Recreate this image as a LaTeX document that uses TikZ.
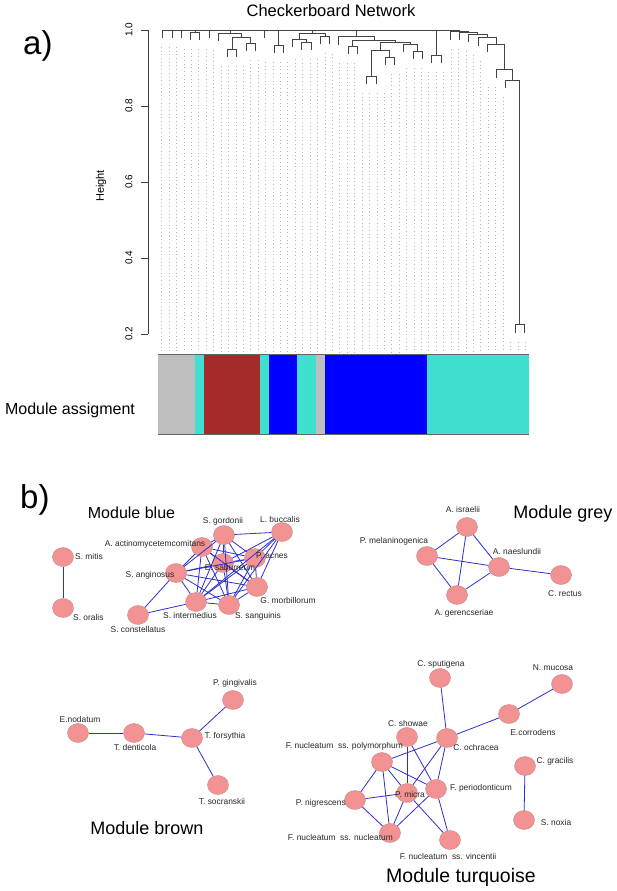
\documentclass[tikz,border=0pt]{standalone}
\usepackage{fontspec}
\setmainfont{Liberation Sans}
\usetikzlibrary{shapes.geometric}
\definecolor{nodefill}{HTML}{F29292}
\definecolor{nodeline}{HTML}{C98A8A}
\definecolor{edgeblue}{HTML}{2F2FCF}
\definecolor{dendro}{HTML}{444444}
\definecolor{guidec}{HTML}{B4B4B4}
\definecolor{mgrey}{HTML}{BEBEBE}
\definecolor{mturq}{HTML}{40E0D0}
\definecolor{mbrown}{HTML}{A52A2A}
\definecolor{mblue}{HTML}{0000FF}
\def\leafends{{38,38,38,40,40,38,41,57,57,51,51,38,53,53,47,50,50,44,44,44.7,54,54,84,84,65,65,52,59,59,63,63,39.7,40.5,42.3,45.7,52,77.5,88,333,333}}
\newcommand\dendbr[5]{\draw[dend] (#1,#4) -- (#1,#3) -- (#2,#3) -- (#2,#5);}
\newcommand\dendup[2]{\draw[dend] (#1,30) -- (#1,#2);}
\begin{document}
\begin{tikzpicture}[x=1pt,y=-1pt,
  dend/.style={draw=dendro,line width=0.8pt},
  guideline/.style={draw=guidec,line width=0.7pt,dash pattern=on 0.8pt off 2.9pt},
  axisline/.style={draw=black!75,line width=0.7pt},
  ticklab/.style={rotate=90,font=\fontsize{10}{11}\selectfont,inner sep=0pt},
  netnode/.style={ellipse,draw=nodeline,line width=0.4pt,fill=nodefill,minimum width=21pt,minimum height=19pt,inner sep=0pt},
  lab/.style={font=\fontsize{8.4}{9}\selectfont,text=black!85,inner sep=0pt},
  edge/.style={draw=edgeblue,line width=0.8pt},
  modtitle/.style={inner sep=0pt,text=black}]
\useasboundingbox (0,0) rectangle (617,891);
\fill[white] (0,0) rectangle (617,891);
% ---------- part a ----------
\node[font=\fontsize{16.5}{18}\selectfont] (title) at (331,10.5) {Checkerboard Network};
\node[anchor=base west,font=\fontsize{33}{33}\selectfont,inner sep=0pt] (la) at (23,55) {a)};
\draw[axisline] (148,30) -- (148,334);
\foreach \y/\t in {30/1.0,106/0.8,182/0.6,258/0.4,334/0.2}{
  \draw[axisline] (141,\y) -- (148,\y);
  \node[ticklab] (tk\y) at (129,\y) {\t};
}
\node[rotate=90,font=\fontsize{11}{12}\selectfont] (hgt) at (101,186) {Height};
% guides
\foreach \g in {0,...,49}{
  \pgfmathsetmacro\gx{161.7+7.42*\g}
  \pgfmathtruncatemacro\gi{max(0,min(38,floor((\gx-162.6)/9.275)))}
  \pgfmathsetmacro\ga{\leafends[\gi]}
  \pgfmathsetmacro\gb{\leafends[\gi+1]}
  \pgfmathsetmacro\gy{max(\ga,\gb)+9}
  \draw[guideline] (\gx,\gy) -- (\gx,352);
}
% dendrogram
\draw[dend] (162.6,30) -- (459.35,30);
\dendup{162.6}{38}
\dendup{171.9}{38}
\dendup{181.2}{38}
\dendup{195.05}{32}
\dendup{209.0}{38}
\dendup{229.9}{33}
\dendup{264.6}{38}
\dendup{278.55}{45}
\dendup{312.25}{33}
\dendup{356.5}{36.7}
\dendup{436.25}{55}
\dendup{459.35}{31.7}
\dendbr{190.4}{199.7}{32}{40}{40}
\dendbr{227.5}{236.8}{49}{57}{57}
\dendbr{246.1}{255.4}{43}{51}{51}
\dendbr{232.15}{250.75}{37}{49}{43}
\dendbr{218.3}{241.45}{33}{41}{37}
\dendbr{273.9}{283.2}{45}{53}{53}
\dendbr{301.7}{311.0}{42}{50}{50}
\dendbr{292.5}{306.35}{39}{47}{42}
\dendbr{320.3}{329.6}{36}{44}{44}
\dendbr{299.45}{324.95}{33}{39}{36}
\dendbr{348.1}{357.4}{46}{54}{54}
\dendbr{366.7}{375.9}{76}{84}{84}
\dendbr{385.2}{394.5}{57}{65}{65}
\dendbr{371.3}{389.85}{50}{76}{57}
\dendbr{413.0}{422.3}{51}{59}{59}
\dendbr{403.8}{417.65}{44}{52}{51}
\dendbr{380.6}{410.7}{42}{50}{44}
\dendbr{352.75}{395.65}{40}{46}{42}
\dendbr{338.8}{374.2}{36.7}{44.7}{40}
\dendbr{431.6}{440.9}{55}{63}{63}
\dendbr{515.1}{524.3}{324}{333}{333}
\dendbr{505.8}{519.7}{80}{88}{324}
\dendbr{496.5}{512.75}{69.5}{77.5}{80}
\dendbr{487.2}{504.6}{44}{52}{69.5}
\dendbr{478.0}{495.9}{37.7}{45.7}{44}
\dendbr{468.7}{486.95}{34.3}{42.3}{37.7}
\dendbr{459.4}{477.8}{32.5}{40.5}{34.3}
\dendbr{450.1}{468.6}{31.7}{39.7}{32.5}
% module colour bar
\fill[mgrey]  (158,354) rectangle (195.1,434);
\fill[mturq]  (195.1,354) rectangle (204.4,434);
\fill[mbrown] (204.4,354) rectangle (260.0,434);
\fill[mturq]  (260.0,354) rectangle (269.3,434);
\fill[mblue]  (269.3,354) rectangle (297.1,434);
\fill[mturq]  (297.1,354) rectangle (315.7,434);
\fill[mgrey]  (315.7,354) rectangle (325.0,434);
\fill[mblue]  (325.0,354) rectangle (427.0,434);
\fill[mturq]  (427.0,354) rectangle (529,434);
\draw[draw=black!60,line width=0.6pt] (158,354) -- (529,354);
\draw[draw=black!60,line width=0.6pt] (158,434) -- (529,434);
\node[font=\fontsize{16}{18}\selectfont] (massign) at (70,410) {Module assigment};
% ---------- part b ----------
\node[anchor=base west,font=\fontsize{33}{33}\selectfont,inner sep=0pt] (lb) at (20,508) {b)};
% module blue
\node[netnode] (smitis) at (63,557) {};
\node[netnode] (soralis) at (63,608) {};
\node[netnode] (sang) at (176,573) {};
\node[netnode] (scon) at (138,615) {};
\node[netnode] (sint) at (196,602) {};
\node[netnode] (ssan) at (229,605) {};
\node[netnode] (gmor) at (257,587) {};
\node[netnode] (pacn) at (255,558) {};
\node[netnode] (lbuc) at (282,532) {};
\node[netnode] (sgor) at (224,535) {};
\node[netnode] (aact) at (202,547) {};
\node[netnode] (esab) at (223,563) {};
\draw[edge] (smitis) -- (soralis);
\draw[edge] (scon) -- (sang);
\draw[edge] (scon) -- (sint);
\foreach \a/\b in {aact/sgor,aact/pacn,aact/esab,aact/sang,aact/gmor,aact/sint,aact/ssan,
  sgor/lbuc,sgor/pacn,sgor/esab,sgor/sang,sgor/gmor,sgor/sint,sgor/ssan,
  lbuc/pacn,lbuc/esab,lbuc/gmor,lbuc/sint,lbuc/ssan,
  pacn/esab,pacn/sang,pacn/gmor,pacn/sint,pacn/ssan,
  esab/sang,esab/gmor,esab/sint,esab/ssan,
  sang/gmor,sang/sint,sang/ssan,
  gmor/sint,gmor/ssan,sint/ssan}
  {\draw[edge] (\a) -- (\b);}
\node[lab,anchor=west] (lsmitis) at (75,556) {S. mitis};
\node[lab,anchor=west] (lsoralis) at (73,617) {S. oralis};
\node[lab] (lscon) at (138,629) {S. constellatus};
\node[lab] (lsint) at (190,615) {S. intermedius};
\node[lab] (lssan) at (258,616) {S. sanguinis};
\node[lab] (lgmor) at (288,600) {G. morbillorum};
\node[lab] (lsang) at (150,575) {S. anginosus};
\node[lab] (lesab) at (230,567) {E. saburreum};
\node[lab] (lpacn) at (272,556) {P. acnes};
\node[lab] (laact) at (155,544) {A. actinomycetemcomitans};
\node[lab] (lsgor) at (223,521) {S. gordonii};
\node[lab] (llbuc) at (280,519) {L. buccalis};
\node[modtitle,font=\fontsize{16}{18}\selectfont] (tblue) at (131.5,513) {Module blue};
% module grey
\node[netnode] (aisr) at (467,527) {};
\node[netnode] (pmel) at (427,556) {};
\node[netnode] (anae) at (499,567) {};
\node[netnode] (ager) at (457,595) {};
\node[netnode] (crec) at (561,575) {};
\foreach \a/\b in {aisr/pmel,aisr/anae,aisr/ager,pmel/anae,pmel/ager,anae/ager,anae/crec}
  {\draw[edge] (\a) -- (\b);}
\node[lab] (laisr) at (463,509) {A. israelii};
\node[lab] (lpmel) at (394,541) {P. melaninogenica};
\node[lab] (lanae) at (517,551) {A. naeslundii};
\node[lab] (lager) at (464,613) {A. gerencseriae};
\node[lab] (lcrec) at (565,594) {C. rectus};
\node[modtitle,font=\fontsize{18}{20}\selectfont] (tgrey) at (563,514) {Module grey};
% module brown
\node[netnode] (enod) at (78,733) {};
\node[netnode] (tden) at (134,733) {};
\node[netnode] (tfor) at (192,738) {};
\node[netnode] (pgin) at (233,700) {};
\node[netnode] (tsoc) at (218,785) {};
\foreach \a/\b in {enod/tden,tden/tfor,tfor/pgin,tfor/tsoc}
  {\draw[edge] (\a) -- (\b);}
\node[lab] (lenod) at (80,719) {E.nodatum};
\node[lab] (ltden) at (135,747) {T. denticola};
\node[lab] (ltfor) at (225,736) {T. forsythia};
\node[lab] (lpgin) at (235,683) {P. gingivalis};
\node[lab] (ltsoc) at (222,801) {T. socranskii};
\node[modtitle,font=\fontsize{18}{20}\selectfont] (tbrown) at (147,828) {Module brown};
% module turquoise
\node[netnode] (cspu) at (440,678) {};
\node[netnode] (nmuc) at (562,684) {};
\node[netnode] (ecor) at (509,714) {};
\node[netnode] (csho) at (407,737) {};
\node[netnode] (coch) at (447,738) {};
\node[netnode] (fpol) at (382,762) {};
\node[netnode] (pnig) at (355,800) {};
\node[netnode] (pmic) at (407,793) {};
\node[netnode] (fper) at (436,789) {};
\node[netnode] (fnuc) at (390,833) {};
\node[netnode] (fvin) at (450,840) {};
\node[netnode] (cgra) at (525,766) {};
\node[netnode] (snox) at (524,820) {};
\foreach \a/\b in {cspu/coch,nmuc/ecor,ecor/coch,coch/fpol,coch/pmic,coch/fper,csho/pmic,csho/fper,
  fpol/pnig,fpol/pmic,fpol/fper,fpol/fnuc,pnig/pmic,pnig/fnuc,pmic/fnuc,pmic/fvin,fper/fnuc,fper/fvin,cgra/snox}
  {\draw[edge] (\a) -- (\b);}
\node[lab] (lcspu) at (441,664) {C. sputigena};
\node[lab] (lnmuc) at (553,668) {N. mucosa};
\node[lab] (lecor) at (533,732) {E.corrodens};
\node[lab] (lcsho) at (408,723) {C. showae};
\node[lab] (lcoch) at (476,747) {C. ochracea};
\node[lab,anchor=east] (lfpol) at (403,746) {F. nucleatum\ \ ss. polymorphum};
\node[lab,anchor=east] (lpnig) at (346,803) {P. nigrescens};
\node[lab] (lpmic) at (410,794) {P. micra};
\node[lab] (lfper) at (481,788) {F. periodonticum};
\node[lab,anchor=east] (lfnuc) at (393,837) {F. nucleatum\ \ ss. nucleatum};
\node[lab] (lfvin) at (448,856) {F. nucleatum\ \ ss. vincentii};
\node[lab] (lcgra) at (555,761) {C. gracilis};
\node[lab] (lsnox) at (556,822) {S. noxia};
\node[modtitle,font=\fontsize{19.5}{21}\selectfont] (tturq) at (461,877) {Module turquoise};
\end{tikzpicture}
\end{document}
